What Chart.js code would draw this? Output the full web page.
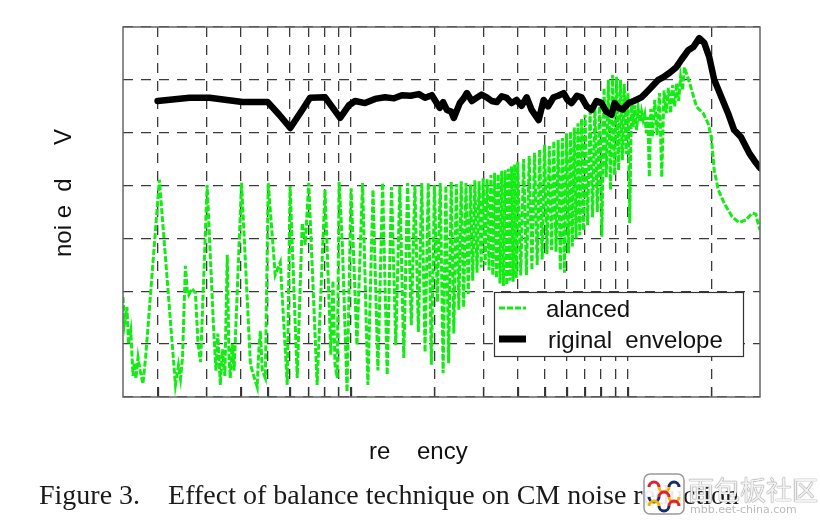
<!DOCTYPE html>
<html>
<head>
<meta charset="utf-8">
<script src="https://cdn.jsdelivr.net/npm/chart.js@4.4.1/dist/chart.umd.min.js"></script>
<style>
  body { margin: 0; background: #fff; }
  #wrap { position: relative; width: 820px; height: 525px; overflow: hidden; }
  #chart { position: absolute; left: 0; top: 0; }
  .txt { position: absolute; white-space: pre; color: #111; }
  #ytitle { left: -39px; top: 181px; width: 200px; height: 24px; line-height: 24px; text-align: center;
            font: 24px "Liberation Sans", Arial, sans-serif; transform: rotate(-90deg); }
  #xtitle { left: 369px; top: 437px; line-height: 24px; font: 24px "Liberation Sans", Arial, sans-serif; }
  #caption { left: 39px; top: 479px; line-height: 28px; font: 28px "Liberation Serif", "Times New Roman", serif; color: #1a1a1a; }
  #wmlogo { position: absolute; left: 643px; top: 473px; }
  #wmtext { left: 688px; top: 474px; font: 26px "Noto Sans CJK SC", sans-serif; line-height: 30px;
            color: #f2f2f2; text-shadow: 0 0 1px #777, 0 0 1px #777; }
  #wmurl { left: 690px; top: 503px; font: 11px "DejaVu Sans", sans-serif; color: #bbb; }
</style>
</head>
<body>
<div id="wrap">
  <canvas id="chart" width="820" height="525"></canvas>
  <div id="ytitle" class="txt">noi e  d     V</div>
  <div id="xtitle" class="txt">re    ency</div>
  <div id="caption" class="txt">Figure 3.    Effect of balance technique on CM noise reduction</div>
  <svg id="wmlogo" width="42" height="42" viewBox="0 0 42 42">
    <rect x="1" y="1" width="40" height="40" rx="6" fill="#fff" fill-opacity="0.9" stroke="#999" stroke-width="1.5"/>
    <path d="M6 14 a5 5 0 0 1 10 0" fill="none" stroke="#d23" stroke-width="3"/>
    <path d="M16 14 a5 5 0 0 0 10 0" fill="none" stroke="#f5b400" stroke-width="3"/>
    <path d="M26 14 a5 5 0 0 1 10 0" fill="none" stroke="#1b2a6b" stroke-width="3"/>
    <path d="M6 24 a5 5 0 0 0 10 0" fill="none" stroke="#1b2a6b" stroke-width="3"/>
    <path d="M16 24 a5 5 0 0 1 10 0" fill="none" stroke="#d23" stroke-width="3"/>
    <path d="M26 24 a5 5 0 0 0 10 0" fill="none" stroke="#f5b400" stroke-width="3"/>
    <path d="M6 33 a5 5 0 0 1 10 0" fill="none" stroke="#f5b400" stroke-width="3"/>
    <path d="M16 33 a5 5 0 0 0 10 0" fill="none" stroke="#1b2a6b" stroke-width="3"/>
    <path d="M26 33 a5 5 0 0 1 10 0" fill="none" stroke="#d23" stroke-width="3"/>
  </svg>
  <div id="wmtext" class="txt">面包板社区</div>
  <div id="wmurl" class="txt">mbb.eet-china.com</div>
</div>
<script>
// frequency grid (MHz), log axis 150 kHz .. 30 MHz
const gridFreqs = [0.2, 0.3, 0.4, 0.5, 0.6, 0.7, 0.8, 0.9, 1, 2, 3, 4, 5, 6, 7, 8, 9, 10, 20];
const freqMin = 0.15;
const freqMax = 30;
const levelMin = 0;
const levelMax = 70;
const levelStep = 10;

// original envelope (black)
const origFreq = [
  0.2, 0.261, 0.308, 0.405, 0.5, 0.55, 0.603, 0.666, 0.711, 0.806,
  0.854, 0.913, 0.983, 1.034, 1.123, 1.22, 1.326, 1.43, 1.527, 1.64,
  1.757, 1.85, 1.958, 2.09, 2.15, 2.218, 2.3, 2.35, 2.47, 2.55,
  2.62, 2.73, 2.845, 2.96, 3.09, 3.22, 3.36, 3.5, 3.65, 3.8,
  3.96, 4.13, 4.31, 4.49, 4.76, 4.96, 5.15, 5.39, 5.6, 5.86,
  6.05, 6.26, 6.55, 6.8, 7.1, 7.39, 7.7, 8.03, 8.35, 8.72,
  8.95, 9.24, 9.6, 10.04, 10.5, 11.18, 11.6, 12.15, 12.88, 13.43,
  14.11, 14.96, 15.59, 16.52, 17.22, 18.1, 18.87, 19.67, 20.5, 21.73,
  23.0, 24.2, 25.6, 27.4, 29.0, 30
];
const origLevel = [
  56.0, 56.6, 56.6, 55.8, 55.8, 53.4, 50.9, 54.3, 56.6, 56.7,
  54.9, 52.8, 55.2, 56.0, 55.6, 56.4, 56.7, 56.5, 57.1, 57.0,
  57.3, 56.6, 57.1, 54.7, 55.8, 54.3, 54.0, 52.8, 55.6, 56.5,
  57.5, 56.0, 56.6, 57.2, 56.7, 56.0, 55.8, 56.9, 56.6, 55.6,
  56.2, 55.1, 56.7, 54.3, 52.4, 56.2, 55.0, 56.7, 57.0, 57.5,
  56.2, 55.6, 57.0, 56.7, 55.0, 54.3, 56.0, 55.6, 54.0, 53.4,
  55.6, 54.7, 54.4, 55.6, 56.0, 56.7, 57.5, 58.6, 60.0, 60.5,
  61.3, 62.4, 63.8, 65.6, 66.2, 67.9, 67.0, 64.3, 60.0, 56.8,
  53.7, 50.5, 49.2, 46.2, 44.3, 43.3
];

// balanced (green)
const balancedFreq = [
  0.150, 0.152, 0.155, 0.157, 0.160, 0.163, 0.165, 0.167, 0.170, 0.173,
  0.177, 0.181, 0.203, 0.232, 0.238, 0.242, 0.246, 0.252, 0.256, 0.259,
  0.266, 0.274, 0.280, 0.286, 0.302, 0.318, 0.325, 0.330, 0.337, 0.343,
  0.350, 0.357, 0.362, 0.366, 0.372, 0.378, 0.402, 0.433, 0.445, 0.458,
  0.463, 0.470, 0.478, 0.490, 0.502, 0.532, 0.555, 0.588, 0.602, 0.639,
  0.666, 0.683, 0.703, 0.754, 0.805, 0.830, 0.845, 0.860, 0.875, 0.891,
  0.905, 0.930, 0.967, 1.000, 1.050, 1.100, 1.150, 1.200, 1.250, 1.300,
  1.350, 1.400, 1.450, 1.500, 1.550, 1.600, 1.650, 1.700, 1.750, 1.800,
  1.850, 1.900, 1.950, 2.000, 2.050, 2.100, 2.150, 2.200, 2.250, 2.300,
  2.350, 2.400, 2.450, 2.500, 2.550, 2.600, 2.650, 2.700, 2.750, 2.800,
  2.850, 2.900, 2.950, 3.000, 3.050, 3.100, 3.150, 3.200, 3.250, 3.300,
  3.350, 3.400, 3.450, 3.500, 3.550, 3.600, 3.650, 3.700, 3.750, 3.800,
  3.850, 3.900, 3.950, 4.000, 4.100, 4.200, 4.300, 4.400, 4.500, 4.600,
  4.700, 4.800, 4.900, 5.000, 5.100, 5.200, 5.300, 5.400, 5.500, 5.600,
  5.700, 5.800, 5.900, 6.000, 6.100, 6.200, 6.300, 6.400, 6.500, 6.600,
  6.700, 6.800, 6.900, 7.000, 7.150, 7.300, 7.450, 7.600, 7.750, 7.900,
  8.050, 8.200, 8.350, 8.500, 8.650, 8.800, 8.950, 9.100, 9.250, 9.400,
  9.550, 9.700, 9.850, 10.00, 10.15, 10.30, 10.45, 10.60, 10.75, 10.90,
  11.05, 11.20, 11.35, 11.50, 11.65, 11.80, 11.95, 12.10, 12.25, 12.50,
  12.75, 13.00, 13.25, 13.50, 13.75, 14.00, 14.25, 14.50, 14.75, 15.00,
  15.25, 15.50, 15.75, 16.00, 16.70, 17.70, 18.70, 19.50, 20.00, 20.50,
  21.20, 22.30, 23.80, 25.20, 26.70, 28.10, 29.00, 29.50, 30.00
];
const balancedLevel = [
  18.9, 14.0, 17.0, 10.0, 12.5, 4.0, 6.5, 3.5, 7.5, 5.0,
  2.5, 7.4, 41.1, 2.3, 6.0, 3.5, 7.4, 24.8, 20.0, 19.3,
  20.5, 19.7, 10.0, 6.6, 40.1, 14.0, 5.0, 12.0, 2.3, 9.0,
  4.0, 26.9, 8.0, 3.6, 10.0, 5.0, 40.5, 6.1, 4.0, 1.9,
  8.0, 12.5, 5.0, 3.6, 40.5, 23.1, 25.5, 2.3, 39.9, 3.6,
  32.9, 28.8, 40.5, 2.3, 39.2, 20.0, 8.0, 22.0, 6.0, 3.6,
  40.7, 28.8, 1.0, 39.5, 9.8, 40.5, 2.3, 39.2, 5.0, 40.5,
  4.2, 39.7, 9.8, 39.9, 7.4, 40.5, 13.6, 40.1, 12.3, 40.5,
  8.5, 40.5, 6.1, 40.1, 18.0, 40.5, 4.5, 40.0, 6.4, 40.7,
  12.0, 40.3, 16.5, 40.8, 17.0, 40.5, 19.5, 40.2, 22.0, 41.0,
  23.5, 40.8, 24.5, 41.4, 25.0, 41.2, 24.0, 42.0, 23.0, 42.4,
  22.5, 42.2, 21.5, 42.8, 21.0, 42.9, 21.2, 43.2, 22.0, 43.6,
  21.8, 44.0, 22.5, 44.5, 23.0, 45.0, 23.1, 45.6, 24.0, 46.2,
  25.0, 46.8, 26.0, 47.7, 27.0, 47.5, 27.8, 48.4, 27.5, 48.6,
  24.0, 49.0, 23.5, 49.9, 27.2, 50.2, 28.5, 51.0, 30.0, 51.8,
  30.6, 52.6, 31.5, 53.4, 32.5, 54.0, 34.0, 55.0, 35.0, 56.5,
  30.3, 58.5, 41.6, 60.0, 39.2, 60.9, 42.0, 60.6, 42.9, 60.0,
  44.8, 59.2, 46.0, 57.5, 32.9, 56.0, 51.1, 55.2, 50.5, 54.5,
  52.0, 54.0, 52.4, 53.5, 50.0, 53.0, 41.6, 54.5, 49.2, 56.2,
  49.5, 57.5, 41.6, 58.0, 53.7, 58.5, 53.7, 59.0, 55.0, 59.4,
  56.0, 60.5, 58.0, 62.4, 59.4, 54.9, 53.7, 51.7, 49.2, 42.9,
  39.2, 36.6, 34.1, 33.0, 33.5, 34.8, 34.6, 32.9, 31.6
];

const seriesLabels = ['alanced', 'riginal  envelope'];

function toPoints(xs, ys) {
  return xs.map((x, i) => ({ x, y: ys[i] }));
}

// plot frame + inward ticks on the bottom axis
const framePlugin = {
  id: 'frame',
  afterDraw(chart) {
    const { ctx, chartArea: area } = chart;
    const xScale = chart.scales.x;
    ctx.save();
    ctx.strokeStyle = '#333';
    ctx.lineWidth = 1.3;
    xScale.ticks.forEach((tick) => {
      const px = Math.round(xScale.getPixelForValue(tick.value)) + 0.5;
      ctx.beginPath();
      ctx.moveTo(px, area.bottom);
      ctx.lineTo(px, area.bottom - 10);
      ctx.stroke();
    });
    ctx.strokeStyle = '#666';
    ctx.lineWidth = 1.5;
    ctx.strokeRect(area.left, area.top, area.right - area.left, area.bottom - area.top);
    ctx.restore();
  },
};

const boxLegendPlugin = {
  id: 'boxLegend',
  afterDraw(chart) {
    const { ctx } = chart;
    const box = { x: 494, y: 292, w: 249, h: 64 };
    ctx.save();
    ctx.fillStyle = '#fff';
    ctx.fillRect(box.x, box.y, box.w, box.h);
    ctx.strokeStyle = '#333';
    ctx.lineWidth = 1.2;
    ctx.strokeRect(box.x + 0.5, box.y + 0.5, box.w, box.h);
    ctx.font = '24px "Liberation Sans", Arial, sans-serif';
    ctx.fillStyle = '#111';
    ctx.textBaseline = 'alphabetic';
    chart.data.datasets.forEach((ds, i) => {
      const rowY = box.y + 16 + i * 31;
      ctx.beginPath();
      ctx.setLineDash(ds.borderDash || []);
      ctx.strokeStyle = ds.borderColor;
      ctx.lineWidth = i === 0 ? 3 : 7;
      ctx.moveTo(box.x + 5, rowY);
      ctx.lineTo(box.x + 32, rowY);
      ctx.stroke();
      ctx.setLineDash([]);
      ctx.fillText(ds.label, box.x + 52 + i * 2, rowY + 9);
    });
    ctx.restore();
  },
};

const gridStyle = { color: '#3a3a3a', lineWidth: 1.3, drawTicks: false };
const gridBorder = { display: false, dash: [10, 8] };

new Chart(document.getElementById('chart'), {
  type: 'line',
  data: {
    datasets: [
      {
        label: seriesLabels[0],
        data: toPoints(balancedFreq, balancedLevel),
        borderColor: 'rgb(20, 235, 20)',
        borderWidth: 3,
        borderDash: [6, 2],
        pointRadius: 0,
        tension: 0,
        order: 1,
      },
      {
        label: seriesLabels[1],
        data: toPoints(origFreq, origLevel),
        borderColor: '#000',
        borderWidth: 6.5,
        borderJoinStyle: 'round',
        borderCapStyle: 'round',
        pointRadius: 0,
        tension: 0,
        order: 0,
      },
    ],
  },
  options: {
    responsive: false,
    animation: false,
    events: [],
    layout: {
      autoPadding: false,
      padding: { left: 123, right: 60, top: 27, bottom: 128 },
    },
    plugins: {
      legend: { display: false },
      tooltip: { enabled: false },
    },
    scales: {
      x: {
        type: 'logarithmic',
        min: freqMin,
        max: freqMax,
        afterBuildTicks(scale) {
          scale.ticks = gridFreqs.map((value) => ({ value }));
        },
        afterFit(scale) {
          scale.height = 0;
        },
        ticks: { display: false },
        grid: gridStyle,
        border: gridBorder,
      },
      y: {
        min: levelMin,
        max: levelMax,
        afterFit(scale) {
          scale.width = 0;
        },
        ticks: { display: false, stepSize: levelStep },
        grid: gridStyle,
        border: gridBorder,
      },
    },
  },
  plugins: [framePlugin, boxLegendPlugin],
});
</script>
</body>
</html>
